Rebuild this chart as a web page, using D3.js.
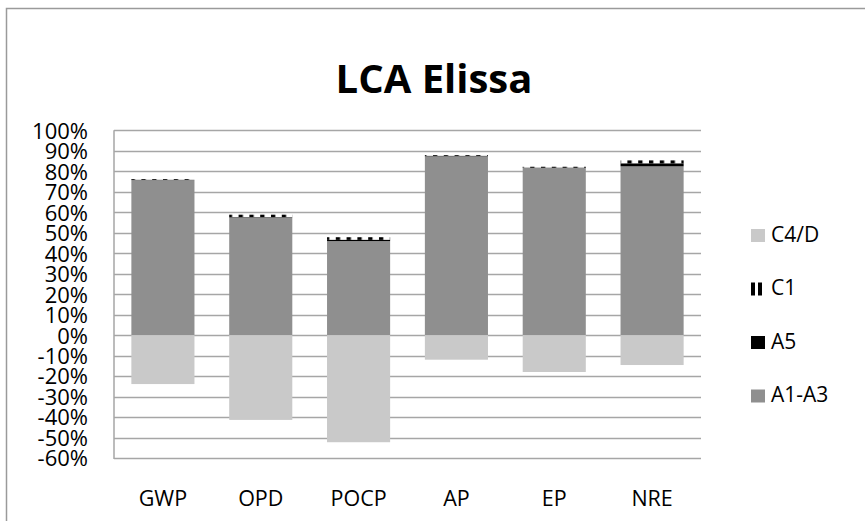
<!DOCTYPE html>
<html>
<head>
<meta charset="utf-8">
<script src="https://cdn.jsdelivr.net/npm/d3@7"></script>
<style>
  html, body { margin: 0; padding: 0; background: #fff; }
  svg { display: block; font-family: "Open Sans", sans-serif; }
</style>
</head>
<body>
<svg id="chart" width="865" height="521"></svg>
<script>
const categories = ["GWP", "OPD", "POCP", "AP", "EP", "NRE"];
const seriesNames = ["A1-A3", "A5", "C1", "C4/D"];
const A1A3 = [75.7, 57.4, 45.9, 87.3, 81.6, 82.4];
const A5   = [0.1, 0.2, 0.6, 0.2, 0.1, 1.4];
const C1   = [0.4, 1.2, 1.3, 0.4, 0.5, 1.5];
const C4D  = [-23.9, -41.4, -52.3, -12.0, -18.0, -14.6];
const yTicks = [100, 90, 80, 70, 60, 50, 40, 30, 20, 10, 0, -10, -20, -30, -40, -50, -60];
const legendOrder = ["C4/D", "C1", "A5", "A1-A3"];
const title = "LCA Elissa";

const svg = d3.select("#chart");
const defs = svg.append("defs");
defs.append("pattern")
  .attr("id", "c1pat").attr("patternUnits", "userSpaceOnUse")
  .attr("width", 10.8).attr("height", 10)
  .append("rect").attr("x", 1).attr("y", 0).attr("width", 4.3).attr("height", 10).attr("fill", "#000");

const fills = { "A1-A3": "#8f8f8f", "A5": "#000000", "C1": "url(#c1pat)", "C4/D": "#c9c9c9" };

// outer chart border
svg.append("rect").attr("x", 6.5).attr("y", 8.5).attr("width", 900).attr("height", 600)
  .attr("fill", "none").attr("stroke", "#9a9a9a").attr("stroke-width", 1.5);

const plot = { left: 114, right: 701, top: 130.3, bottom: 458 };
const x = d3.scaleBand().domain(categories).range([plot.left, plot.right]).paddingInner(0.355).paddingOuter(0.1775);
const y = d3.scaleLinear().domain([-60, 100]).range([plot.bottom, plot.top]);

// gridlines
svg.append("g").selectAll("line").data(yTicks).join("line")
  .attr("x1", plot.left).attr("x2", plot.right)
  .attr("y1", d => Math.round(y(d)) + 0.5).attr("y2", d => Math.round(y(d)) + 0.5)
  .attr("stroke", "#a6a6a6").attr("stroke-width", 1.5);
svg.append("line").attr("x1", plot.left).attr("x2", plot.left)
  .attr("y1", y(100)).attr("y2", y(-60) + 1)
  .attr("stroke", "#a6a6a6").attr("stroke-width", 1.5);

// y axis labels
const yAxis = d3.axisLeft(y).tickValues(yTicks).tickSize(0).tickPadding(0).tickFormat(d => d + "%");
const gy = svg.append("g").attr("transform", `translate(88,0)`).call(yAxis);
gy.select(".domain").remove();
gy.selectAll("text").attr("font-size", 22).attr("fill", "#000").attr("font-family", "Open Sans, sans-serif").attr("dy", "0.36em");

// x axis labels
const xAxis = d3.axisBottom(x).tickSize(0).tickPadding(0);
const gx = svg.append("g").attr("transform", `translate(0,${plot.bottom})`).call(xAxis);
gx.select(".domain").remove();
gx.selectAll("text").attr("font-size", 21.5).attr("fill", "#000").attr("font-family", "Open Sans, sans-serif")
  .attr("y", 48).attr("dy", 0);

// stacked bars
const rows = categories.map((c, i) => ({ cat: c, "A1-A3": A1A3[i], "A5": A5[i], "C1": C1[i] }));
const stack = d3.stack().keys(["A1-A3", "A5", "C1"]);
const layers = stack(rows);
const bars = svg.append("g");
layers.forEach(layer => {
  bars.append("g").selectAll("rect").data(layer).join("rect")
    .attr("x", d => x(d.data.cat)).attr("width", x.bandwidth())
    .attr("y", d => y(d[1])).attr("height", d => Math.max(0, y(d[0]) - y(d[1])))
    .attr("fill", fills[layer.key]);
});
bars.append("g").selectAll("rect").data(categories).join("rect")
  .attr("x", d => x(d)).attr("width", x.bandwidth())
  .attr("y", y(0)).attr("height", (d, i) => y(C4D[i]) - y(0))
  .attr("fill", fills["C4/D"]);

// title
svg.append("text").attr("x", 434).attr("y", 93).attr("text-anchor", "middle")
  .attr("font-size", 40).attr("font-weight", "bold").attr("fill", "#000").text(title);

// legend
const lg = svg.append("g");
legendOrder.forEach((name, i) => {
  const cy = 234 + i * 53.5;
  if (name === "C1") {
    lg.append("rect").attr("x", 751).attr("y", cy - 5).attr("width", 4).attr("height", 13).attr("fill", "#000");
    lg.append("rect").attr("x", 758).attr("y", cy - 5).attr("width", 4).attr("height", 13).attr("fill", "#000");
  } else {
    lg.append("rect").attr("x", 751).attr("y", cy - 5).attr("width", 14).attr("height", 13).attr("fill", fills[name]);
  }
  lg.append("text").attr("x", 771).attr("y", cy).attr("dy", "0.36em")
    .attr("font-size", 21).attr("fill", "#000").text(name);
});
</script>
</body>
</html>
